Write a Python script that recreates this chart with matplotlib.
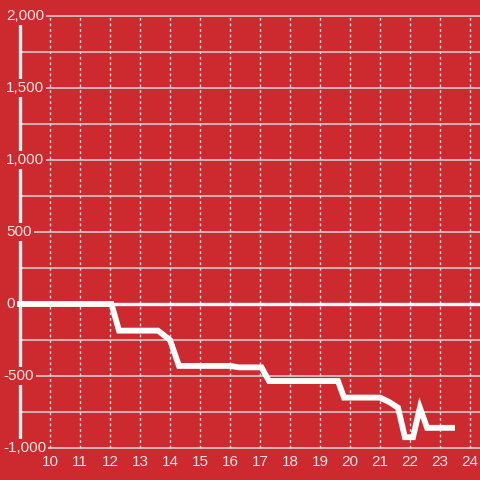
import matplotlib
matplotlib.use('Agg')
import matplotlib.pyplot as plt
import numpy as np

# 数据
x_vals = [9.0, 12.05, 12.3, 13.6, 14.0, 14.3, 16.0, 16.3, 17.05, 17.3,
          19.6, 19.8, 21.0, 21.3, 21.6, 21.83, 22.1, 22.33, 22.57, 23.4]
y_vals = [0, 0, -185, -185, -250, -430, -430, -440, -440, -535,
          -535, -650, -650, -680, -720, -925, -925, -720, -860, -860]
x_ticks = list(range(10, 25))
y_ticks = [-1000, -500, 0, 500, 1000, 1500, 2000]
y_labels = ['-1,000', '-500', '0', '500', '1,000', '1,500', '2,000']

bg = '#cc2a2f'
txt = '#f5e4e4'
grid = '#d8d8d8'

plt.rcParams['font.family'] = ['Liberation Sans', 'DejaVu Sans']
fig = plt.figure(figsize=(4.8, 4.8), dpi=100, facecolor=bg)
ax = fig.add_axes([0, 0, 1, 1])
ax.set_facecolor(bg)
ax.set_xlim(9 - 20 / 30, 9 + 460 / 30)
ax.set_ylim(-1000 - 32 / 0.144, 2000 + 16 / 0.144)
ax.axis('off')

# 网格线
ax.hlines(np.arange(-1000, 2001, 250), 9, 24.4, color=grid, lw=1.1, zorder=1)
ax.vlines(x_ticks, -1000, 2000, color=grid, lw=1, linestyles=(0, (2, 2)), zorder=1)
ax.hlines(0, 8.9, 24.4, color='white', lw=2.4, zorder=2)

# 左侧白线
ax.vlines(9, -1000, 2000, color='#f4f4f4', lw=2.4, zorder=3)

# 折线
ax.plot(x_vals, y_vals, color='white', lw=4.2, solid_joinstyle='miter', zorder=4)

# 刻度标签
for v, lab in zip(y_ticks, y_labels):
    x0 = 3 if lab.startswith('-') else 6
    ax.text(x0 / 480, v, lab, transform=ax.get_yaxis_transform(), ha='left', va='center',
            fontsize=11, color=txt, zorder=5,
            bbox=dict(boxstyle='square,pad=0.15', fc=bg, ec='none'))
for v in x_ticks:
    ax.text(v, -1000 - 14 / 0.144, str(v), ha='center', va='center',
            fontsize=11, color=txt, zorder=5)

fig.savefig('out.png', dpi=100, facecolor=bg)
